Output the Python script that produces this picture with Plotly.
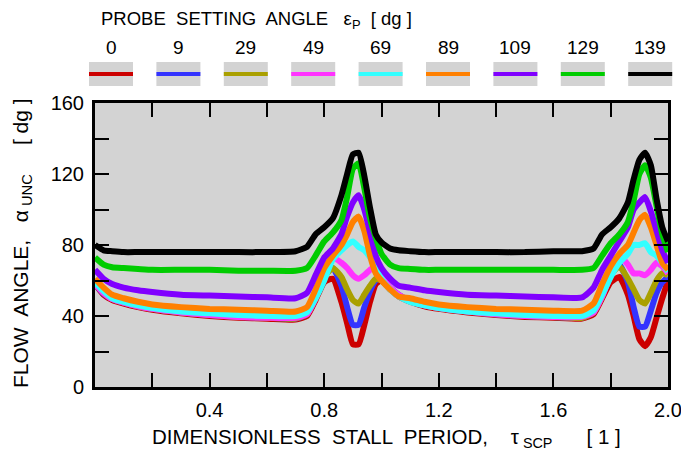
import plotly.graph_objects as go

# ---------------- data ----------------
x_vals = [0.00, 0.03, 0.06, 0.10, 0.15, 0.20, 0.30, 0.40, 0.50, 0.60, 0.70,
          0.74, 0.77, 0.80, 0.83, 0.86, 0.88, 0.90, 0.92, 0.94, 0.96, 0.98,
          1.00, 1.03, 1.06, 1.10, 1.15, 1.20, 1.30, 1.40, 1.50, 1.60, 1.70,
          1.74, 1.77, 1.80, 1.83, 1.86, 1.88, 1.90, 1.92, 1.94, 1.96, 1.98, 2.00]

angles = ["0", "9", "29", "49", "69", "89", "109", "129", "139"]

y_0 = [58, 52, 49, 47, 45, 43.5, 41.5, 40, 39, 38.5, 38,
       40, 49, 59, 61, 48, 36, 24, 24, 35, 48, 58,
       60, 55, 51, 48, 45.5, 44, 42, 40.5, 39.5, 39, 38.5,
       41, 50, 59, 62, 52, 40, 27, 23, 28, 39, 50, 60]
y_9 = [58, 52.5, 49.5, 47.5, 45.5, 44, 42, 40.5, 39.5, 39, 38.5,
       41, 52, 64, 67, 57, 45, 35, 35, 45, 54, 60,
       61, 56, 52, 48.5, 46, 44.5, 42.5, 41, 40, 39.5, 39,
       42, 53, 65, 69, 59, 45, 34, 34, 43, 53, 59, 62]
y_29 = [58, 53, 49.5, 47.5, 45.5, 44, 42, 40.5, 39.5, 39, 38.5,
        41, 50, 62, 67, 62, 55, 49, 47, 52, 57, 61,
        60, 55, 51.5, 48.5, 46, 44.5, 42.5, 41, 40, 39.5, 39,
        42, 51, 63, 68, 61, 55, 49, 47, 53, 60, 64, 63]
y_49 = [58, 53, 49.5, 47.5, 45.5, 44, 42, 40.5, 39.5, 39, 39,
        41, 50, 62, 73, 70, 67, 63, 61, 63, 66, 68,
        63, 56, 52, 48.5, 46, 44.5, 42.5, 41, 40, 39.5, 39.5,
        42, 51, 63, 74, 69, 64, 64, 63, 66, 70, 68, 64]
y_69 = [59, 54, 50, 48, 46, 44.5, 42.5, 41.5, 40.5, 40, 40,
        42, 50, 60, 72, 77, 80, 82, 79, 77, 73, 67,
        61, 55, 51, 48, 46, 44.5, 42.5, 41.5, 40.5, 40, 40,
        43, 52, 62, 70, 75, 80, 80, 81, 76, 74, 70, 65]
y_89 = [61, 56, 52, 50, 48, 46.5, 45, 44, 43.5, 43, 42.5,
        45, 55, 67, 74, 80, 86, 93, 96, 88, 74, 64,
        60, 55, 51, 50, 48, 46.5, 45, 44, 43.5, 43, 43,
        47, 58, 68, 75, 80, 87, 94, 97, 90, 80, 70, 66]
y_109 = [66, 61, 58, 56, 54.5, 53.5, 52, 51.5, 51, 50.5, 50,
         53, 63, 73, 78, 86, 96, 104, 108, 100, 87, 74,
         67, 61, 57, 56, 54.5, 53.5, 52, 51.5, 51, 50.5, 50.5,
         56, 66, 74, 82, 90, 100, 104, 107, 99, 88, 77, 70]
y_129 = [73, 69, 67.5, 67, 66.5, 66, 66, 66, 65.5, 65.5, 65.5,
         67, 74, 82, 87, 94, 107, 123, 126, 112, 95, 84,
         75, 69, 67, 66.5, 66, 66, 66, 66, 66, 66, 66,
         67, 74, 81, 86, 93, 105, 120, 125, 118, 102, 86, 76]
y_139 = [80, 77, 76.5, 76, 76, 76, 76, 76, 76, 76, 76.5,
         79, 86, 90, 95, 108, 120, 131, 132, 119, 101, 86,
         81.5, 78, 77, 76.5, 76, 76, 76, 76, 76, 76.5, 76.5,
         78, 86, 90, 95, 104, 117, 128, 132, 125, 106, 90, 82]

series = [y_0, y_9, y_29, y_49, y_69, y_89, y_109, y_129, y_139]
colors = ["#cc0000", "#3333ff", "#aaa000", "#ff33ff", "#33ffff",
          "#ff8000", "#8000ff", "#00cc00", "#000000"]

x_major = [0.4, 0.8, 1.2, 1.6, 2.0]
x_major_text = ["0.4", "0.8", "1.2", "1.6", "2.0"]
x_minor = [0.2, 0.6, 1.0, 1.4, 1.8]
y_major = [0, 40, 80, 120, 160]
y_major_text = ["0", "40", "80", "120", "160"]
y_minor = [20, 60, 100, 140]

# ---------------- figure ----------------
W, H = 681, 453
L, R, T, B = 95, 668, 103, 387
BG = "#d3d3d3"
FONT = "Liberation Sans, Arial, sans-serif"

fig = go.Figure()
for name, ys, c in zip(angles, series, colors):
    fig.add_trace(go.Scatter(x=x_vals, y=ys, mode="lines", name=name,
                             line=dict(color=c, width=6, shape="spline", smoothing=0.5),
                             showlegend=False))


def px2paper_x(px):
    return (px - L) / (R - L)


def px2paper_y(py):
    return (B - py) / (B - T)


shapes = []
annotations = []
for i, (name, c) in enumerate(zip(angles, colors)):
    cx = 111 + i * 67.4
    shapes.append(dict(type="rect", xref="paper", yref="paper",
                       x0=px2paper_x(cx - 22), x1=px2paper_x(cx + 22),
                       y0=px2paper_y(86), y1=px2paper_y(62),
                       fillcolor=BG, line=dict(width=0), layer="above"))
    shapes.append(dict(type="line", xref="paper", yref="paper",
                       x0=px2paper_x(cx - 22), x1=px2paper_x(cx + 22),
                       y0=px2paper_y(74), y1=px2paper_y(74),
                       line=dict(color=c, width=4), layer="above"))
    annotations.append(dict(text=name, xref="paper", yref="paper",
                            x=px2paper_x(cx), y=px2paper_y(48),
                            xanchor="center", yanchor="middle", showarrow=False,
                            font=dict(size=19, color="black", family=FONT)))

annotations.append(dict(text="PROBE  SETTING  ANGLE   ε<sub>P</sub>  [ dg ]",
                        xref="paper", yref="paper",
                        x=px2paper_x(99), y=px2paper_y(20),
                        xanchor="left", yanchor="middle", showarrow=False,
                        font=dict(size=18.5, color="black", family=FONT)))

annotations.append(dict(text="DIMENSIONLESS  STALL  PERIOD,    τ<sub> SCP</sub>      [ 1 ]",
                        xref="paper", yref="paper",
                        x=px2paper_x(386), y=px2paper_y(438),
                        xanchor="center", yanchor="middle", showarrow=False,
                        font=dict(size=20.5, color="black", family=FONT)))

annotations.append(dict(text="FLOW  ANGLE,   α<sub> UNC</sub>     [ dg ]",
                        xref="paper", yref="paper", textangle=-90,
                        x=px2paper_x(22), y=px2paper_y(243),
                        xanchor="center", yanchor="middle", showarrow=False,
                        font=dict(size=21, color="black", family=FONT)))

fig.update_layout(
    width=W, height=H,
    margin=dict(l=L, r=W - R, t=T, b=H - B, pad=0),
    paper_bgcolor="white", plot_bgcolor=BG,
    font=dict(family=FONT, size=19, color="black"),
    shapes=shapes, annotations=annotations,
    xaxis=dict(range=[0, 2.0], tickmode="array", tickvals=x_major, ticktext=x_major_text,
               ticks="inside", ticklen=14, tickwidth=2, tickcolor="black",
               minor=dict(tickmode="array", tickvals=x_minor, ticks="inside",
                          ticklen=14, tickwidth=2, tickcolor="black", showgrid=False),
               showline=True, linewidth=3, linecolor="black", mirror="ticks",
               showgrid=False, zeroline=False, automargin=False,
               ticklabeloverflow="allow", ticklabelstandoff=3,
               tickfont=dict(size=20, family=FONT)),
    yaxis=dict(range=[0, 160], tickmode="array", tickvals=y_major, ticktext=y_major_text,
               ticks="inside", ticklen=14, tickwidth=2, tickcolor="black",
               minor=dict(tickmode="array", tickvals=y_minor, ticks="inside",
                          ticklen=14, tickwidth=2, tickcolor="black", showgrid=False),
               showline=True, linewidth=3, linecolor="black", mirror="ticks",
               showgrid=False, zeroline=False, automargin=False,
               ticklabeloverflow="allow", ticklabelstandoff=4,
               tickfont=dict(size=20, family=FONT)),
)

fig.write_html("out.html", config={"displayModeBar": False},
               post_script="document.body.style.margin='0';document.body.style.overflow='hidden';")
